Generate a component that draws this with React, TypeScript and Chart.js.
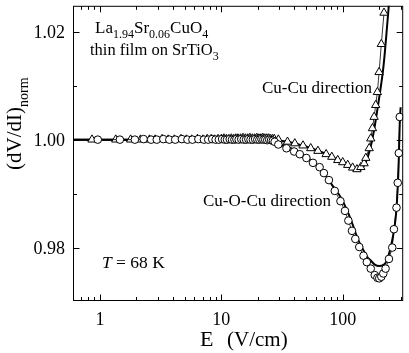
import React, { useEffect, useRef } from 'react';
import { Chart, registerables } from 'chart.js';

Chart.register(...registerables);

// Axis ranges
const X_MIN = 0.602;
const X_MAX = 315;
const Y_MIN = 0.9701;
const Y_MAX = 1.0248;

// Tick positions / labels
const xMajorTicks = [1, 10, 100];
const xMajorLabels = ['1', '10', '100'];
const xMinorTicks = [0.7, 0.8, 0.9, 2, 3, 4, 5, 6, 7, 8, 9, 20, 30, 40, 50, 60, 70, 80, 90, 200, 300];
const yMajorTicks = [0.98, 1.0, 1.02];
const yMajorLabels = ['0.98', '1.00', '1.02'];
const yMinorTicks = [0.99, 1.01];

// Cu-O-Cu direction (circles)
const cuOCuE = [
  0.96, 1.46, 1.94, 2.29, 2.64, 2.94, 3.33, 3.73, 4.17, 4.73, 5.26, 5.78, 6.47, 7.19, 7.8, 8.41, 8.97, 9.54,
  10.15, 10.68, 11.15, 11.73, 12.25, 12.82, 13.31,
  13.9, 14.6, 15.3, 16.0, 16.7, 17.4, 18.2, 19.0, 19.8, 20.6, 21.4, 22.2, 23.0, 23.9, 24.8, 25.7, 26.6, 27.5,
  29.5, 34.4, 39.8, 44.3, 50.2, 56.9, 64.5, 70, 77, 86, 95.8,
  104.4, 111.3, 119.2, 127, 136.9, 148.4, 157.9, 170.2, 183.6, 193.1,
  200, 208, 216, 225.5, 240.4, 255.9, 264.2, 277.4, 284, 290, 295,
];
const cuOCuV = [
  1.0, 1.0, 1.0, 1.0001, 1.0, 1.0, 1.0001, 1.0, 1.0, 1.0001, 1.0, 1.0, 1.0001, 1.0, 1.0, 1.0001, 1.0, 1.0,
  1.0001, 1.0, 1.0, 1.0001, 1.0, 1.0, 1.0001,
  1.0, 1.0001, 1.0, 1.0, 1.0001, 1.0, 1.0, 1.0001, 1.0, 1.0, 1.0001, 1.0, 1.0, 0.9999, 1.0, 0.9999, 0.9998, 0.9996,
  0.9991, 0.9984, 0.9978, 0.9973, 0.9966, 0.9957, 0.9949, 0.9938, 0.9925, 0.9905, 0.9886,
  0.9868, 0.985, 0.9831, 0.9816, 0.9801, 0.9785, 0.9773, 0.9761, 0.9749, 0.9744,
  0.9743, 0.9746, 0.9752, 0.9761, 0.9779, 0.98, 0.9834, 0.9874, 0.992, 0.9975, 1.0042,
];

// Cu-Cu direction (triangles)
const cuCuE = [
  0.86, 1.35, 1.79, 2.16, 2.56, 2.85, 3.25, 3.65, 4.1, 4.65, 5.15, 5.7, 6.35, 7.05, 7.65, 8.25, 8.8, 9.4,
  10.0, 10.5, 11.0, 11.55, 12.1, 12.65, 13.15,
  13.7, 14.4, 15.1, 15.8, 16.5, 17.2, 18.0, 18.8, 19.6, 20.4, 21.2, 22.0, 22.8, 23.7, 24.6, 25.5, 26.4, 27.3,
  29.5, 35.1, 40.3, 47.1, 54.5, 62.5, 73, 81.3, 91,
  100, 110, 120.7, 131, 141, 150, 155, 165.2, 170.3, 175.8, 181.4, 187, 193.1, 199.4, 208, 218.9,
];
const cuCuV = [
  1.0, 1.0, 1.0, 1.0, 1.0, 1.0, 1.0001, 1.0, 1.0, 1.0001, 1.0, 1.0, 1.0001, 1.0, 1.0001, 1.0001, 1.0, 1.0001,
  1.0001, 1.0002, 1.0001, 1.0001, 1.0002, 1.0001, 1.0002,
  1.0002, 1.0002, 1.0003, 1.0002, 1.0002, 1.0003, 1.0002, 1.0002, 1.0003, 1.0002, 1.0002, 1.0003, 1.0002, 1.0002, 1.0002, 1.0001, 1.0001, 1.0001,
  1.0, 0.9996, 0.9993, 0.9989, 0.9984, 0.9979, 0.9973, 0.9968, 0.9962,
  0.9958, 0.9953, 0.9948, 0.9945, 0.9949, 0.9956, 0.9966, 0.9984, 1.0002, 1.0021, 1.0042, 1.0064, 1.0088, 1.0125, 1.0177, 1.0235,
];

// Fit curves
const cuOCuFitE = [0.6, 5, 15, 22, 26, 30, 35, 40, 50, 62, 72, 83, 97, 110, 122, 133, 148, 160, 170, 185, 200, 213, 226, 238, 250, 260, 268, 276, 283, 289, 295, 300];
const cuOCuFitV = [1.0, 1.0, 1.0, 0.9999, 0.9996, 0.9992, 0.9987, 0.9981, 0.9968, 0.9951, 0.9934, 0.9914, 0.9892, 0.9866, 0.984, 0.9816, 0.9795, 0.9782, 0.9776, 0.9768, 0.9766, 0.9767, 0.9772, 0.9785, 0.9803, 0.9822, 0.984, 0.9866, 0.9905, 0.9955, 1.003, 1.006];
const cuCuFitE = [0.6, 15, 22, 28, 35, 45, 55, 65, 75, 85, 95, 105, 115, 125, 133, 142, 150, 158, 166, 174, 182, 190, 198, 206, 214, 222, 230, 238, 246];
const cuCuFitV = [1.0, 1.0, 1.0, 0.9999, 0.9996, 0.999, 0.9984, 0.9978, 0.9972, 0.9966, 0.996, 0.9954, 0.9948, 0.9943, 0.9942, 0.9945, 0.9952, 0.9963, 0.9978, 0.9997, 1.002, 1.0046, 1.0072, 1.0098, 1.0125, 1.016, 1.02, 1.024, 1.028];

const SERIF = '"Liberation Serif", "Times New Roman", serif';

type Run = { text: string; size: number; dy?: number; italic?: boolean };

function drawRuns(ctx: CanvasRenderingContext2D, x: number, y: number, runs: Run[]) {
  let cx = x;
  for (const r of runs) {
    ctx.font = `${r.italic ? 'italic ' : ''}${r.size}px ${SERIF}`;
    ctx.fillText(r.text, cx, y + (r.dy || 0));
    cx += ctx.measureText(r.text).width;
  }
}

const decorPlugin = {
  id: 'decor',
  afterDraw(chart: any) {
    const ctx: CanvasRenderingContext2D = chart.ctx;
    const { left, right, top, bottom } = chart.chartArea;
    const xs = chart.scales.x;
    const ys = chart.scales.y;
    ctx.save();
    ctx.strokeStyle = '#000';
    ctx.fillStyle = '#000';
    ctx.lineWidth = 1;
    // frame
    ctx.strokeRect(left + 0.5, top + 0.5, right - left - 1, bottom - top - 1);
    const L = left + 0.5, R = right - 0.5, T = top + 0.5, B = bottom - 0.5;
    ctx.beginPath();
    const xTick = (v: number, len: number) => {
      const px = Math.round(xs.getPixelForValue(v)) + 0.5;
      ctx.moveTo(px, B); ctx.lineTo(px, B - len);
      ctx.moveTo(px, T); ctx.lineTo(px, T + len);
    };
    const yTick = (v: number, len: number) => {
      const py = Math.round(ys.getPixelForValue(v)) + 0.5;
      ctx.moveTo(L, py); ctx.lineTo(L + len, py);
      ctx.moveTo(R, py); ctx.lineTo(R - len, py);
    };
    xMajorTicks.forEach((v) => xTick(v, 6));
    xMinorTicks.forEach((v) => xTick(v, 3.5));
    yMajorTicks.forEach((v) => yTick(v, 6));
    yMinorTicks.forEach((v) => yTick(v, 3.5));
    ctx.stroke();

    // tick labels
    ctx.font = `18px ${SERIF}`;
    ctx.textBaseline = 'alphabetic';
    ctx.textAlign = 'center';
    xMajorTicks.forEach((v, i) => {
      ctx.fillText(xMajorLabels[i], xs.getPixelForValue(v), 324.5);
    });
    ctx.textAlign = 'right';
    yMajorTicks.forEach((v, i) => {
      ctx.fillText(yMajorLabels[i], 65, ys.getPixelForValue(v) + 6);
    });

    ctx.textAlign = 'left';
    // x title
    drawRuns(ctx, 200, 346, [{ text: 'E', size: 22 }]);
    drawRuns(ctx, 227, 346, [{ text: '(V/cm)', size: 21 }]);

    // y title
    ctx.save();
    ctx.translate(21, 170);
    ctx.rotate(-Math.PI / 2);
    drawRuns(ctx, 0, 0, [
      { text: '(dV/dI)', size: 21 },
      { text: 'norm', size: 14, dy: 7 },
    ]);
    ctx.restore();

    // annotations
    drawRuns(ctx, 95, 33, [
      { text: 'La', size: 17 },
      { text: '1.94', size: 12, dy: 5 },
      { text: 'Sr', size: 17 },
      { text: '0.06', size: 12, dy: 5 },
      { text: 'CuO', size: 17 },
      { text: '4', size: 12, dy: 5 },
    ]);
    drawRuns(ctx, 90, 55, [
      { text: 'thin film on SrTiO', size: 16.5 },
      { text: '3', size: 12, dy: 5 },
    ]);
    drawRuns(ctx, 262, 93, [{ text: 'Cu-Cu direction', size: 17 }]);
    drawRuns(ctx, 203, 206, [{ text: 'Cu-O-Cu direction', size: 17 }]);
    drawRuns(ctx, 102, 268, [
      { text: 'T', size: 17.5, italic: true },
      { text: ' = 68 K', size: 17.5 },
    ]);
    ctx.restore();
  },
};

export default function App() {
  const ref = useRef<HTMLCanvasElement>(null);
  useEffect(() => {
    const toPts = (xs: number[], vs: number[]) => xs.map((x, i) => ({ x, y: vs[i] }));
    const chart = new Chart(ref.current as HTMLCanvasElement, {
      type: 'line',
      data: {
        datasets: [
          {
            label: 'Cu-O-Cu direction',
            data: toPts(cuOCuE, cuOCuV),
            showLine: true,
            borderColor: '#000',
            borderWidth: 0.8,
            pointStyle: 'circle',
            pointRadius: 3.8,
            pointBackgroundColor: '#fff',
            pointBorderColor: '#000',
            pointBorderWidth: 1,
            tension: 0,
            order: 1,
          },
          {
            label: 'Cu-Cu direction',
            data: toPts(cuCuE, cuCuV),
            showLine: true,
            borderColor: '#000',
            borderWidth: 0.8,
            pointStyle: 'triangle',
            pointRadius: 4.8,
            pointBackgroundColor: '#fff',
            pointBorderColor: '#000',
            pointBorderWidth: 1,
            tension: 0,
            order: 2,
          },
          {
            label: 'Cu-O-Cu fit',
            data: toPts(cuOCuFitE, cuOCuFitV),
            borderColor: '#000',
            borderWidth: 2,
            pointRadius: 0,
            cubicInterpolationMode: 'monotone',
            order: 3,
          },
          {
            label: 'Cu-Cu fit',
            data: toPts(cuCuFitE, cuCuFitV),
            borderColor: '#000',
            borderWidth: 2,
            pointRadius: 0,
            cubicInterpolationMode: 'monotone',
            order: 4,
          },
        ] as any,
      },
      options: {
        responsive: false,
        animation: false,
        devicePixelRatio: 1,
        events: [],
        layout: { padding: { left: 73, top: 3, right: 3, bottom: 52 } },
        plugins: { legend: { display: false }, tooltip: { enabled: false } },
        scales: {
          x: { type: 'logarithmic', min: X_MIN, max: X_MAX, display: false },
          y: { type: 'linear', min: Y_MIN, max: Y_MAX, display: false },
        },
      } as any,
      plugins: [decorPlugin],
    });
    return () => chart.destroy();
  }, []);
  return (
    <div style={{ position: 'absolute', left: 0, top: 0, width: 409, height: 353, background: '#fff' }}>
      <canvas ref={ref} width={409} height={353} style={{ width: 409, height: 353, display: 'block' }} />
    </div>
  );
}
